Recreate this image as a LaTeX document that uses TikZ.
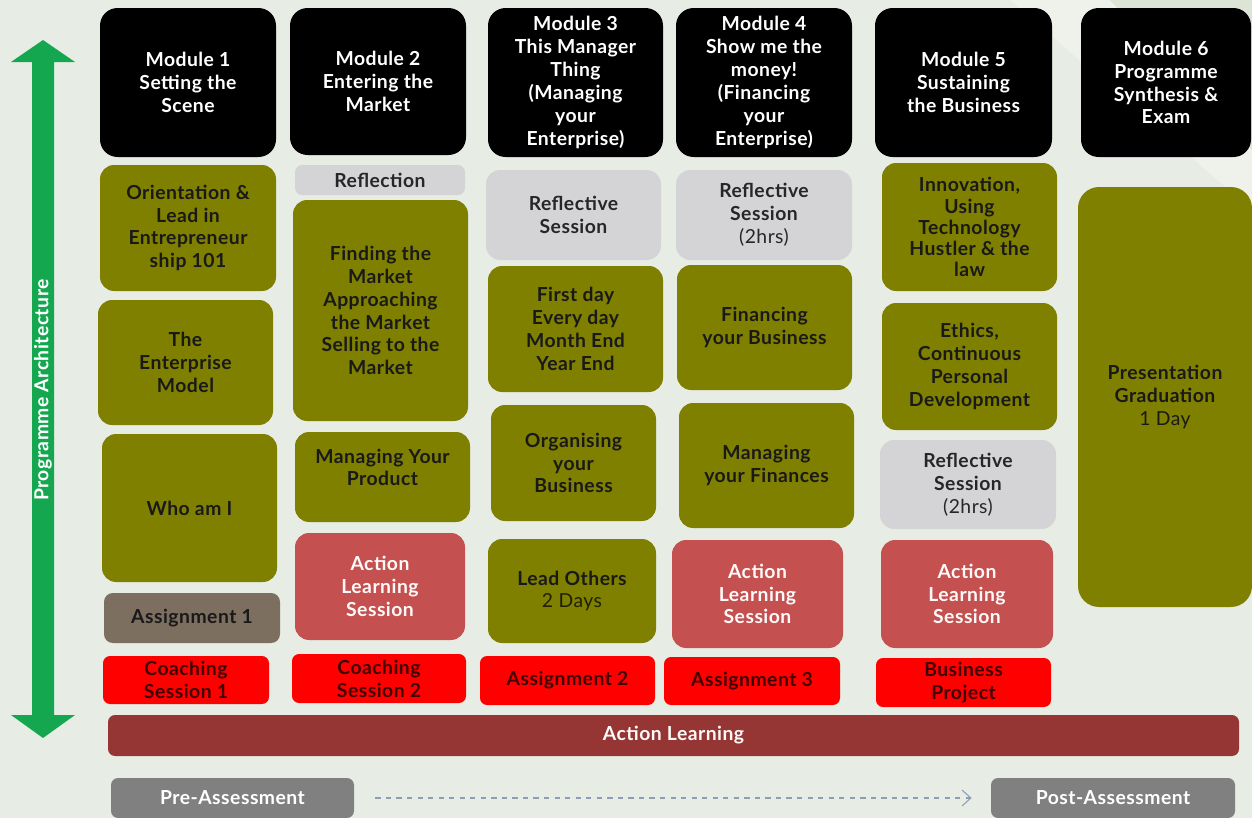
\documentclass[tikz,border=0pt]{standalone}
\usepackage{fontspec}
\setmainfont{Lato}[LetterSpace=2.5]
\usetikzlibrary{arrows.meta}

\definecolor{bgcol}{HTML}{E7EDE4}
\definecolor{bandcol}{HTML}{EEF2EA}
\definecolor{cornercol}{HTML}{DCE4D5}
\definecolor{olivecol}{HTML}{7F7F00}
\definecolor{greycol}{HTML}{D4D4D6}
\definecolor{alscol}{HTML}{C4504F}
\definecolor{brickcol}{HTML}{963634}
\definecolor{taupecol}{HTML}{7D6F5F}
\definecolor{archgreen}{HTML}{14A750}
\definecolor{dashcol}{HTML}{8E9DB6}

\tikzset{
  cellbox/.style={rounded corners=8pt, align=center, inner sep=0pt,
    font=\bfseries\fontsize{11}{13}\selectfont},
  sz/.style 2 args={minimum width=#1*0.02cm, minimum height=#2*0.02cm},
  modbox/.style={cellbox, fill=black, text=white, rounded corners=10pt},
  olivebox/.style={cellbox, fill=olivecol, text=black!90},
  greybox/.style={cellbox, fill=greycol, text=black!85},
  alsbox/.style={cellbox, fill=alscol, text=white!92!pink},
  redbox/.style={cellbox, fill=red, text=red!25!black, rounded corners=4pt},
  assessbox/.style={cellbox, fill=gray, text=white, rounded corners=4pt},
}

\begin{document}
\begin{tikzpicture}[x=0.02cm, y=-0.02cm]
% page and background
\useasboundingbox (0,0) rectangle (1252,818);
\fill[bgcol] (0,0) rectangle (1252,818);
\fill[bandcol] (1010,0) -- (1110,0) -- (1252,150) -- (1252,210) -- cycle;
\fill[cornercol] (1110,0) -- (1252,0) -- (1252,150) -- cycle;

% programme architecture arrow
\fill[archgreen] (43,40) -- (75,62) -- (54,62) -- (54,715) -- (75,715) -- (43,738)
  -- (11,715) -- (32,715) -- (32,62) -- (11,62) -- cycle;
\node[rotate=90, text=white, font=\bfseries\fontsize{11}{13}\selectfont] (arch) at (43,390) {Programme Architecture};

% module 1
\node[modbox, sz={176}{149}] (m1) at (188,82.5) {Module 1\\Setting the\\Scene};
\node[olivebox, sz={176}{126}] (orient) at (188,228) {Orientation \&\\Lead in\\Entrepreneur\\ship 101};
\node[olivebox, sz={175}{125}] (entmodel) at (185.5,362.5) {The\\Enterprise\\Model};
\node[olivebox, sz={175}{148}] (whoami) at (189.5,508) {Who am I};
\node[cellbox, fill=taupecol, text=black!90, rounded corners=5pt, sz={176}{50}] (assign1) at (192,618) {Assignment 1};
\node[redbox, sz={166}{48}] (coach1) at (186,680) {Coaching\\Session 1};

% module 2
\node[modbox, sz={176}{147}] (m2) at (378,81.5) {Module 2\\Entering the\\Market};
\node[greybox, rounded corners=4pt, sz={170}{30}] (reflect2) at (380,180) {Reflection};
\node[olivebox, sz={175}{221}] (finding) at (380.5,310.5) {Finding the\\Market\\Approaching\\the Market\\Selling to the\\Market};
\node[olivebox, sz={175}{90}] (product) at (382.5,477) {Managing Your\\Product\\[-2pt]\mbox{}};
\node[alsbox, sz={170}{107}] (als2) at (380,586.5) {Action\\Learning\\Session};
\node[redbox, sz={174}{49}] (coach2) at (379,678.5) {Coaching\\Session 2};

% module 3
\node[modbox, sz={175}{149}] (m3) at (575.5,82.5) {Module 3\\This Manager\\Thing\\(Managing\\your\\Enterprise)};
\node[greybox, sz={175}{90}] (reflect3) at (573.5,215) {Reflective\\Session};
\node[olivebox, sz={175}{126}] (firstday) at (575.5,329) {First day\\Every day\\Month End\\Year End};
\node[olivebox, sz={165}{116}] (organise) at (573.5,463) {Organising\\your\\Business};
\node[olivebox, sz={168}{104}] (leadothers) at (572,591) {Lead Others\\{\mdseries\color{black!75!olivecol} 2 Days}};
\node[redbox, sz={175}{49}] (assign2) at (567.5,680.5) {Assignment 2};

% module 4
\node[modbox, sz={176}{149}] (m4) at (764,82.5) {Module 4\\Show me the\\money!\\(Financing\\your\\Enterprise)};
\node[greybox, sz={176}{90}] (reflect4) at (764,215) {Reflective\\Session\\{\mdseries (2hrs)}};
\node[olivebox, sz={175}{125}] (financing) at (764.5,327.5) {Financing\\your Business};
\node[olivebox, sz={175}{125}] (finances) at (766.5,465.5) {Managing\\your Finances};
\node[alsbox, sz={171}{108}] (als4) at (757.5,594) {Action\\Learning\\Session};
\node[redbox, sz={176}{48}] (assign3) at (752,681) {Assignment 3};

% module 5
\node[modbox, sz={177}{149}] (m5) at (963.5,82.5) {Module 5\\Sustaining\\the Business};
\node[olivebox, sz={175}{128}, font=\bfseries\fontsize{11}{12}\selectfont] (innov) at (969.5,227) {Innovation,\\Using\\Technology\\Hustler \& the\\law};
\node[olivebox, sz={175}{127}] (ethics) at (969.5,366.5) {Ethics,\\Continuous\\Personal\\Development};
\node[greybox, sz={176}{89}] (reflect5) at (968,484.5) {Reflective\\Session\\{\mdseries (2hrs)}};
\node[alsbox, sz={172}{108}] (als5) at (967,594) {Action\\Learning\\Session};
\node[redbox, sz={175}{49}] (project) at (963.5,682.5) {Business\\Project};

% module 6
\node[modbox, sz={170}{149}] (m6) at (1166,82.5) {Module 6\\Programme\\Synthesis \&\\Exam};
\node[olivebox, rounded corners=12pt, sz={174}{420}] (graduation) at (1165,397) {Presentation\\Graduation\\{\mdseries 1 Day}};

% action learning and assessments
\node[cellbox, fill=brickcol, text=white!90!pink, rounded corners=4pt, sz={1131}{41}] (actionbar) at (673.5,735.5) {Action Learning};
\node[assessbox, sz={243}{40}] (pre) at (232.5,798) {Pre-Assessment};
\node[assessbox, sz={244}{40}] (post) at (1113,798) {Post-Assessment};
\draw[dashcol, dashed, semithick, shorten <=0.42cm, shorten >=0.38cm, -{Straight Barb[length=5pt, width=9pt]}] (pre) -- (post);
\end{tikzpicture}
\end{document}
